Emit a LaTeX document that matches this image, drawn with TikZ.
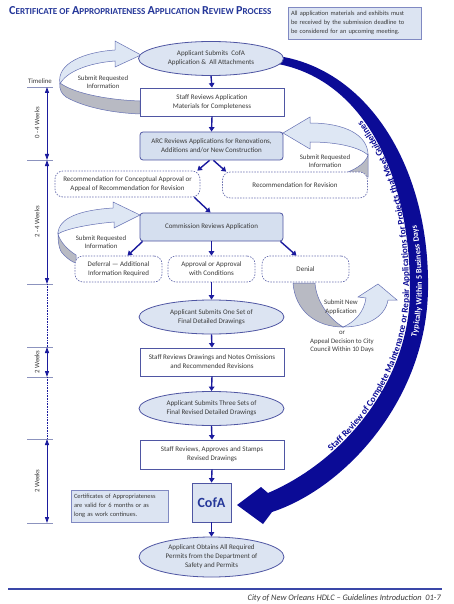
\documentclass[tikz,border=0pt]{standalone}
\usepackage{fontspec}
\setmainfont{Carlito}
\usetikzlibrary{shapes.geometric,arrows.meta,decorations.text,calc}
\definecolor{navyA}{HTML}{0B0B96}
\definecolor{arrowblue}{HTML}{1B1B9E}
\definecolor{bordblue}{HTML}{4F56A3}
\definecolor{fillblue}{HTML}{DCE4F2}
\definecolor{boxfill}{HTML}{D5DFEF}
\definecolor{ribfill}{HTML}{DEE7F4}
\definecolor{ribline}{HTML}{6570B3}
\definecolor{ribgray}{HTML}{B8BAC3}
\definecolor{titleblue}{HTML}{26389A}
\definecolor{txt}{HTML}{3A3A3A}
\definecolor{tickgray}{HTML}{8C93BE}
\definecolor{dashblue}{HTML}{6A70B0}
\definecolor{notebord}{HTML}{8089C2}
\definecolor{footblue}{HTML}{3A47A8}
\newcommand{\Tsc}[2]{{\fontsize{12.2}{13}\selectfont #1}{\fontsize{9.1}{13}\selectfont #2}}
\begin{document}
\begin{tikzpicture}[x=1pt,y=-1pt,
  every node/.style={font=\fontsize{7}{9}\selectfont, text=txt, inner sep=0pt, align=center},
  ell/.style={ellipse, draw=bordblue, line width=0.8pt, fill=fillblue, minimum width=145pt, minimum height=34pt},
  sbox/.style={rectangle, draw=bordblue, line width=0.8pt, fill=white, minimum width=144pt, minimum height=28pt},
  rbox/.style={rectangle, rounded corners=3pt, draw=bordblue, line width=0.8pt, fill=boxfill, minimum width=143pt, minimum height=28pt},
  dbox/.style={rectangle, rounded corners=8pt, draw=dashblue, line width=0.7pt, dash pattern=on 1.5pt off 1.3pt, fill=white, minimum height=26pt},
  note/.style={rectangle, draw=notebord, line width=0.9pt, fill=fillblue, align=left, inner xsep=3pt, font=\fontsize{6.4}{8.8}\selectfont},
  flow/.style={draw=arrowblue, line width=1.4pt, -{Triangle[width=5.5pt,length=4.5pt]}},
  tl/.style={draw=arrowblue, line width=1pt, {Triangle[width=4pt,length=6pt]}-{Triangle[width=4pt,length=6pt]}},
  tldot/.style={draw=arrowblue, line width=0.9pt, dash pattern=on 0.8pt off 0.8pt},
  tick/.style={draw=tickgray, line width=0.8pt},
  rib/.style={fill=ribfill, draw=ribline, line width=0.5pt},
  ribg/.style={fill=ribgray, draw=ribline, line width=0.5pt},
  lbl/.style={font=\fontsize{6.8}{8.6}\selectfont},
]
\useasboundingbox (0,0) rectangle (453,604);
\fill[white] (0,0) rectangle (453,604);

% big curved arrow
\fill[navyA] (278,56) .. controls (370,70) and (430,170) .. (428,290) .. controls (426,400) and (345,488) .. (272,512) -- (263,524) -- (237,505) -- (261,487) -- (268,493) .. controls (345,460) and (410,380) .. (410,290) .. controls (410,172) and (362,80) .. (278,64) -- cycle;
\path[decorate, decoration={text along path, text color=navyA, text align={left indent=76pt}, raise=1pt,
  text={|\fontsize{9.2}{9}\selectfont\bfseries|Staff Review of Complete Maintenance or Repair Applications for Projects that Meet Guidelines}}]
  (268,493) .. controls (345,460) and (410,380) .. (410,290) .. controls (410,200) and (388,125) .. (318,81);
\path[decorate, decoration={text along path, text color=white, text align=center, raise=-2.9pt,
  text={|\fontsize{8.3}{9}\selectfont\bfseries|Typically Within 5 Business Days}}]
  (270,503) .. controls (345,474) and (419,390) .. (419,290) .. controls (420,172) and (365,77) .. (278,60);

% ribbon loop 1
\path[ribg] (60,83) .. controls (59,90) and (62,94) .. (66,97) .. controls (85,108) and (115,113) .. (140,114) -- (140,101) .. controls (110,100) and (75,94) .. (60,83) -- cycle;
\path[rib] (60,84) .. controls (56,63) and (85,52) .. (115,50) -- (115,41) -- (141,55) -- (115,67) -- (115,61) .. controls (88,63) and (66,72) .. (60,84) -- cycle;
% ribbon loop 2
\path[rib] (283,133) -- (310,117) -- (310,123) .. controls (345,123) and (368,135) .. (368,155) .. controls (360,148) and (340,142) .. (310,142) -- (310,149) -- cycle;
\path[ribg] (368,155) -- (368,177) .. controls (360,176) and (352,174) .. (348,172) .. controls (358,168) and (366,162) .. (368,155) -- cycle;
% ribbon loop 3
\path[ribg] (58,234) .. controls (58,245) and (60,252) .. (64,255) .. controls (68,259) and (72,262) .. (76,263) -- (76,255) .. controls (68,250) and (60,242) .. (58,234) -- cycle;
\path[rib] (58,234) .. controls (58,218) and (80,210) .. (113,208) -- (113,202) -- (140,215) -- (114,228) -- (114,222) .. controls (90,224) and (65,229) .. (58,234) -- cycle;
% ribbon loop 4
\path[ribg] (293,283) .. controls (295,310) and (315,327) .. (343,327) .. controls (328,318) and (316,300) .. (315,283) -- cycle;
\path[rib] (343,327) .. controls (365,327) and (385,318) .. (388,300) -- (397,300) -- (378,284) -- (358,297) -- (366,298) .. controls (364,312) and (355,322) .. (343,327) -- cycle;

% title and notes
\node[anchor=west, text=titleblue, font=\bfseries] (title) at (9,11) {\Tsc{C}{ERTIFICATE} {\fontsize{9.1}{13}\selectfont OF} \Tsc{A}{PPROPRIATENESS} \Tsc{A}{PPLICATION} \Tsc{R}{EVIEW} \Tsc{P}{ROCESS}};
\node[note, text width=127pt, minimum height=32pt] (note1) at (354.5,23) {All application materials and exhibits must\\be received by the submission deadline to\\be considered for an upcoming meeting.};

% flow nodes
\node[ell] (ell1) at (211,58.5) {Applicant Submits\ \ CofA\\Application \&\ \ All Attachments};
\node[sbox] (staff1) at (212,102) {Staff Reviews Application\\Materials for Completeness};
\node[rbox] (arc) at (211.5,146) {ARC Reviews Applications for Renovations,\\Additions and/or New Construction};
\node[dbox, minimum width=145pt] (recL) at (127.5,184) {Recommendation for Conceptual Approval or\\Appeal of Recommendation for Revision};
\node[dbox, minimum width=145pt] (recR) at (295,185) {Recommendation for Revision};
\node[rbox] (comm) at (211.5,227) {Commission Reviews Application};
\node[dbox, minimum width=87pt] (defer) at (118.5,269) {Deferral --- Additional\\Information Required};
\node[dbox, minimum width=87pt] (appr) at (211.5,269) {Approval or Approval\\with Conditions};
\node[dbox, minimum width=87pt] (denial) at (305.5,269) {Denial};
\node[ell] (ell2) at (211.5,317) {Applicant Submits One Set of\\Final Detailed Drawings};
\node[sbox] (staff2) at (212,362) {Staff Reviews Drawings and Notes Omissions\\and Recommended Revisions};
\node[ell] (ell3) at (211.5,408.5) {Applicant Submits Three Sets of\\Final Revised Detailed Drawings};
\node[sbox, minimum height=29pt] (staff3) at (212,454.5) {Staff Reviews, Approves and Stamps\\Revised Drawings};
\node[rectangle, draw=bordblue, line width=0.8pt, fill=fillblue, minimum width=39pt, minimum height=39pt, text=titleblue, font=\fontsize{14}{14}\selectfont\bfseries] (cofa) at (211.5,502.5) {CofA};
\node[ell, minimum height=40pt] (ell4) at (211.5,557) {Applicant Obtains All Required\\Permits from the Department of\\Safety and Permits};
\node[note, text width=91pt, minimum height=32pt] (note2) at (119.5,506) {Certificates of Appropriateness\\are valid for 6 months or as\\long as work continues.};

% loop labels
\node[lbl] (lab1) at (103,82) {Submit Requested\\Information};
\node[lbl] (lab2) at (325,161) {Submit Requested\\Information};
\node[lbl] (lab3) at (101,242) {Submit Requested\\Information};
\node[lbl] (lab4) at (341,307) {Submit New\\Application};
\node[lbl] (lab5) at (342,342) {or\\Appeal Decision to City\\Council Within 10 Days};

% flow connectors
\draw[flow] (ell1.south) -- (staff1.north);
\draw[flow] (staff1.south) -- (arc.north);
\draw[flow] ($(arc.south)+(-2,0)$) -- ($(recL.north east)+(-3,0)$);
\draw[flow] ($(arc.south)+(2,0)$) -- ($(recR.north west)+(4,0)$);
\draw[flow] ($(recL.south east)+(-6,0)$) -- ($(comm.north)+(-1,0)$);
\draw[flow] ($(comm.south west)+(3,0)$) -- ($(defer.north)+(9,0)$);
\draw[flow] (comm.south) -- (appr.north);
\draw[flow] ($(comm.south east)+(-3,0)$) -- ($(denial.north)+(-9,0)$);
\draw[flow] (appr.south) -- (ell2.north);
\draw[flow] (ell2.south) -- (staff2.north);
\draw[flow] (staff2.south) -- (ell3.north);
\draw[flow] (ell3.south) -- (staff3.north);
\draw[flow] (staff3.south) -- (cofa.north);
\draw[flow] (cofa.south) -- (ell4.north);

% timeline
\node[lbl] (tlab) at (40,81) {Timeline};
\coordinate (t0) at (47,87);
\coordinate (t1) at (47,160);
\coordinate (t2) at (47,284);
\coordinate (t3) at (47,347);
\coordinate (t4) at (47,377);
\coordinate (t5) at (47,439);
\coordinate (t6) at (47,523);
\foreach \c in {t0,t1,t2,t3,t4,t5,t6} { \draw[tick] ($(\c)+(-20,0)$) -- ($(\c)+(6,0)$); }
\draw[tl] (t0) -- (t1);
\draw[tl] (t1) -- (t2);
\draw[tldot] (t2) -- (t3);
\draw[tl] (t3) -- (t4);
\draw[tldot] (t4) -- (t5);
\draw[tl] (t5) -- (t6);
\node[lbl, rotate=90] (w1) at (37,123) {0 - 4 Weeks};
\node[lbl, rotate=90] (w2) at (37,222) {2 - 4 Weeks};
\node[lbl, rotate=90] (w3) at (37,362) {2 Weeks};
\node[lbl, rotate=90] (w4) at (37,481) {2 Weeks};

% footer
\coordinate (fl) at (8,589);
\coordinate (fr) at (442,589);
\draw[footblue, line width=1.3pt] (fl) -- (fr);
\node[anchor=east, font=\fontsize{8.4}{9}\selectfont\itshape, text=txt] (foot) at (441,598) {City of New Orleans HDLC -- Guidelines Introduction\ \ 01-7};
\end{tikzpicture}
\end{document}
